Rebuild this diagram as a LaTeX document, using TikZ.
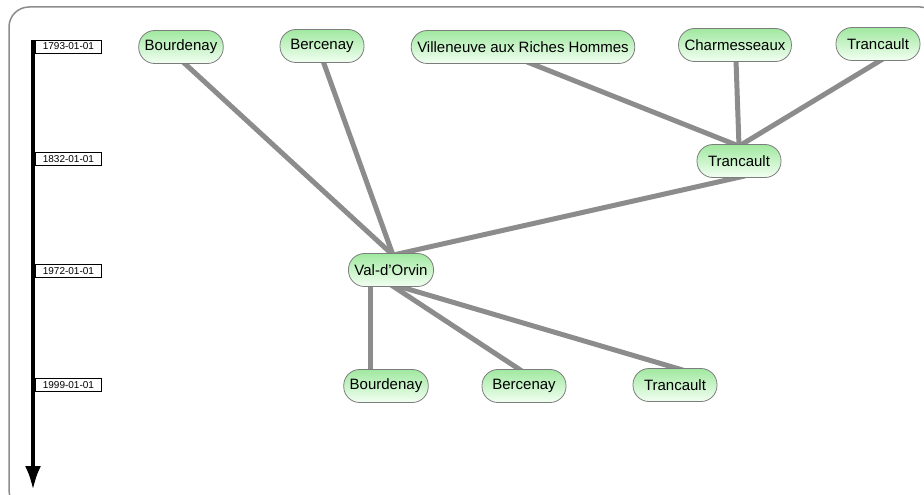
\documentclass[tikz,border=0pt]{standalone}
\usepackage{fontspec}
\setmainfont{Liberation Sans}
\usetikzlibrary{arrows.meta,backgrounds,calc}
\definecolor{edgegray}{RGB}{140,140,140}
\definecolor{framegray}{RGB}{140,140,140}
\definecolor{nodeborder}{RGB}{125,125,125}
\definecolor{greentop}{RGB}{160,232,160}
\definecolor{greenbot}{RGB}{242,255,242}
\tikzset{
  place/.style={draw=nodeborder, line width=0.8pt, rounded corners=16pt,
    top color=greentop, bottom color=greenbot, minimum height=33pt, minimum width=84pt,
    inner xsep=6pt, inner ysep=0pt, font=\fontsize{15}{17}\selectfont},
  datebox/.style={draw=black, line width=0.8pt, fill=white, minimum width=66pt,
    minimum height=13pt, inner sep=0pt, anchor=west, font=\fontsize{10}{11}\selectfont},
  link/.style={draw=edgegray, line width=5pt},
}
\begin{document}
\begin{tikzpicture}[x=1pt,y=-1pt]
\useasboundingbox (0,0) rectangle (924,495);
\clip (0,0) rectangle (924,495);
% nodes
\node[place] (bour1) at (181,47) {Bourdenay};
\node[place] (berc1) at (322,46) {Bercenay};
\node[place] (vill) at (523,47) {Villeneuve aux Riches Hommes};
\node[place] (charm) at (735,45) {Charmesseaux};
\node[place] (tran1) at (878,44) {Trancault};
\node[place] (tran2) at (739,161) {Trancault};
\node[place] (val) at (391,270) {Val-d'Orvin};
\node[place] (bour2) at (386,386) {Bourdenay};
\node[place] (berc2) at (524,386) {Bercenay};
\node[place] (tran3) at (675,385) {Trancault};
% timeline
\coordinate (tl0) at (33,40);
\coordinate (tl1) at (33,490);
\draw[line width=4pt, -{Latex[length=24pt,width=16pt]}] (tl0) -- (tl1);
\node[datebox] (d1) at (35,46.5) {1793-01-01};
\node[datebox] (d2) at (35,159) {1832-01-01};
\node[datebox] (d3) at (35,271) {1972-01-01};
\node[datebox] (d4) at (35,385) {1999-01-01};
\begin{scope}[on background layer]
  \draw[framegray, line width=1.5pt, rounded corners=20pt] (9,7) rectangle (940,510);
  \draw[link] ($(bour1.south)+(2,-2)$) -- ($(val.north)+(2,2)$);
  \draw[link] ($(berc1.south)+(1,-2)$) -- ($(val.north)+(2,2)$);
  \draw[link] ($(val.north)+(2,2)$) -- ($(tran2.south)+(6,-2)$);
  \draw[link] ($(vill.south)+(4,-2)$) -- ($(tran2.north)+(0,2)$);
  \draw[link] ($(charm.south)+(1,-2)$) -- ($(tran2.north)+(0,2)$);
  \draw[link] ($(tran1.south)+(5,-2)$) -- ($(tran2.north)+(0,2)$);
  \draw[link] ($(val.south)+(-21,-2)$) -- ($(bour2.north)+(-16,2)$);
  \draw[link] ($(val.south)+(0,-2)$) -- ($(berc2.north)+(-2,2)$);
  \draw[link] ($(val.south)+(3,-2)$) -- ($(tran3.north)+(8,2)$);
\end{scope}
\end{tikzpicture}
\end{document}
